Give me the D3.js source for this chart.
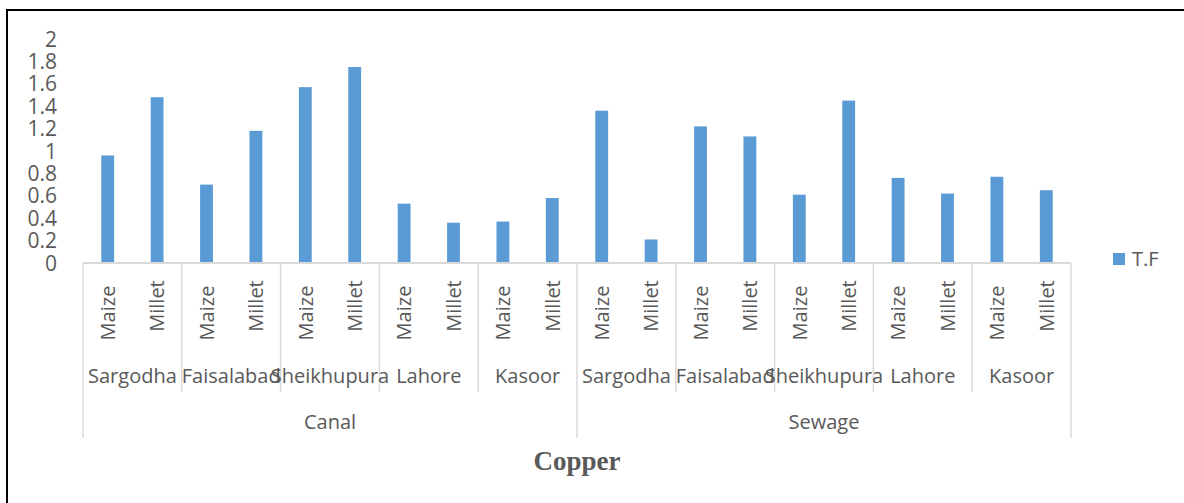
<!DOCTYPE html>
<html>
<head>
<meta charset="utf-8">
<script src="https://cdn.jsdelivr.net/npm/d3@7"></script>
<style>
  body { margin: 0; background: #fff; }
  svg { display: block; font-family: "Open Sans", sans-serif; }
  .tick-label { font-size: 21px; fill: #595959; }
  .cat-label { font-size: 20px; fill: #595959; }
  .title { font-family: "Liberation Serif", "Times New Roman", serif; font-weight: bold; font-size: 27px; fill: #595959; }
</style>
</head>
<body>
<div id="chart"></div>
<script>
// data
var waterTypes = ["Canal", "Sewage"];
var districts = ["Sargodha", "Faisalabad", "Sheikhupura", "Lahore", "Kasoor"];
var crops = ["Maize", "Millet"];
var tfCanal  = [0.96, 1.48, 0.70, 1.18, 1.57, 1.75, 0.53, 0.36, 0.37, 0.58];
var tfSewage = [1.36, 0.21, 1.22, 1.13, 0.61, 1.45, 0.76, 0.62, 0.77, 0.65];
var yTicks = [0, 0.2, 0.4, 0.6, 0.8, 1, 1.2, 1.4, 1.6, 1.8, 2];
var seriesName = "T.F";
var chartTitle = "Copper";

var _width = 1184, _height = 503;
var _plotL = 83, _plotR = 1071;
var _axisY = 263, _topY = 39;
var _barColor = "#5B9BD5";
var _gridColor = "#d9d9d9";

// flatten into one row per bar
var rows = [];
[tfCanal, tfSewage].forEach(function(vals, w) {
    vals.forEach(function(v, k) {
        rows.push({
            water: waterTypes[w],
            district: districts[Math.floor(k / crops.length)],
            crop: crops[k % crops.length],
            value: v
        });
    });
});

var svg = d3.select("#chart").append("svg")
    .attr("width", _width)
    .attr("height", _height);

// outer frame (cut off at right and bottom in the original)
svg.append("rect")
    .attr("x", 7).attr("y", 10)
    .attr("width", 1300).attr("height", 700)
    .attr("fill", "none")
    .attr("stroke", "#000")
    .attr("stroke-width", 2);

var x = d3.scaleBand()
    .domain(d3.range(rows.length))
    .range([_plotL, _plotR])
    .padding(0);

var y = d3.scaleLinear()
    .domain([0, 2])
    .range([_axisY, _topY]);

var barW = x.bandwidth() * 0.26;

// bars
svg.selectAll(".bar")
    .data(rows)
  .enter()
    .append("rect")
    .attr("class", "bar")
    .attr("x", function(d, i) { return x(i) + (x.bandwidth() - barW) / 2; })
    .attr("y", function(d) { return y(d.value); })
    .attr("width", barW)
    .attr("height", function(d) { return y(0) - y(d.value); })
    .attr("fill", _barColor);

// y tick labels
svg.selectAll(".tick-label")
    .data(yTicks)
  .enter()
    .append("text")
    .attr("class", "tick-label")
    .attr("x", 57)
    .attr("y", function(d) { return y(d); })
    .attr("dy", "0.36em")
    .attr("text-anchor", "end")
    .text(function(d) { return d; });

// category axis line
svg.append("line")
    .attr("x1", _plotL).attr("x2", _plotR)
    .attr("y1", _axisY).attr("y2", _axisY)
    .attr("stroke", _gridColor).attr("stroke-width", 2);

// level bottoms for the multi-level axis
var lvlCrop = 345, lvlDistrict = 392, lvlWater = 438;
var perDistrict = crops.length;
var perWater = crops.length * districts.length;

// divider lines: district borders go down to lvlDistrict, water borders to lvlWater
var borders = d3.range(0, rows.length + 1, perDistrict);
svg.selectAll(".divider")
    .data(borders)
  .enter()
    .append("line")
    .attr("class", "divider")
    .attr("x1", function(d) { return d < rows.length ? x(d) : _plotR; })
    .attr("x2", function(d) { return d < rows.length ? x(d) : _plotR; })
    .attr("y1", _axisY)
    .attr("y2", function(d) { return d % perWater == 0 ? lvlWater : lvlDistrict; })
    .attr("stroke", _gridColor)
    .attr("stroke-width", 1.5);

// crop labels, rotated
var cropShift = { "Maize": 313, "Millet": 306 };
svg.selectAll(".crop-label")
    .data(rows)
  .enter()
    .append("text")
    .attr("class", "cat-label crop-label")
    .attr("transform", function(d, i) {
        return "translate(" + (x(i) + x.bandwidth() / 2) + "," + cropShift[d.crop] + ") rotate(-90)";
    })
    .attr("text-anchor", "middle")
    .attr("dy", "0.36em")
    .text(function(d) { return d.crop; });

// district labels
var districtRows = rows.filter(function(d, i) { return i % perDistrict == 0; });
svg.selectAll(".district-label")
    .data(districtRows)
  .enter()
    .append("text")
    .attr("class", "cat-label district-label")
    .attr("x", function(d, i) { return x(i * perDistrict) + x.bandwidth() * perDistrict / 2; })
    .attr("y", 376)
    .attr("dy", "0.36em")
    .attr("text-anchor", "middle")
    .text(function(d) { return d.district; });

// water type labels
svg.selectAll(".water-label")
    .data(waterTypes)
  .enter()
    .append("text")
    .attr("class", "cat-label water-label")
    .attr("x", function(d, i) { return x(i * perWater) + x.bandwidth() * perWater / 2; })
    .attr("y", 422)
    .attr("dy", "0.36em")
    .attr("text-anchor", "middle")
    .text(function(d) { return d; });

// legend
var legend = svg.append("g").attr("transform", "translate(1113,253)");
legend.append("rect")
    .attr("width", 12).attr("height", 12)
    .attr("fill", _barColor);
legend.append("text")
    .attr("class", "cat-label")
    .attr("x", 19).attr("y", 6)
    .attr("dy", "0.36em")
    .text(seriesName);

// title
svg.append("text")
    .attr("class", "title")
    .attr("x", (_plotL + _plotR) / 2)
    .attr("y", 470)
    .attr("text-anchor", "middle")
    .text(chartTitle);
</script>
</body>
</html>
